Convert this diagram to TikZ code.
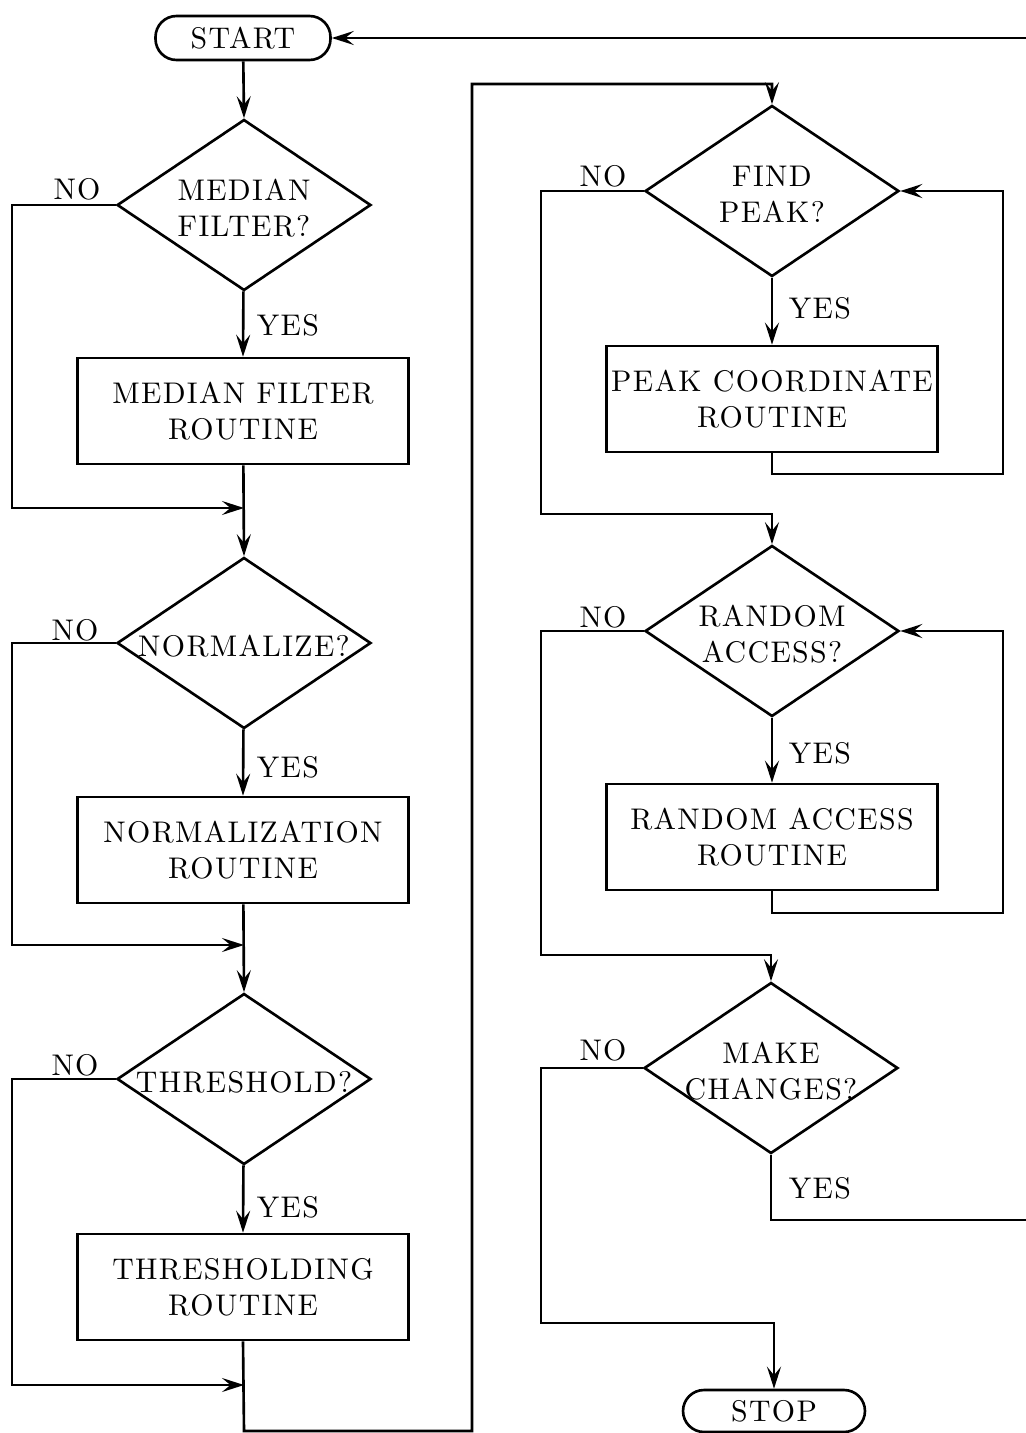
\documentclass[tikz,border=0pt]{standalone}
\usepackage{fontspec}
\newfontfamily\chartfont{lmroman10-regular.otf}[LetterSpace=4.5]
\usepackage{tikz}
\usetikzlibrary{shapes,arrows.meta}

\tikzset{
  term/.style={draw, rectangle, rounded corners=0.42cm, minimum width=3.5cm, minimum height=0.88cm, inner sep=0pt},
  decision/.style={draw, diamond, minimum width=5.08cm, minimum height=3.42cm, inner sep=0pt},
  routine/.style={draw, rectangle, minimum width=6.62cm, minimum height=2.12cm, inner sep=0pt, align=center},
  dtext/.style={align=center, inner sep=0pt, yshift=-0.06cm},
  flow/.style={-{Stealth[length=0.44cm,width=0.28cm,inset=0.17cm]}},
}

\begin{document}
\begin{tikzpicture}[x=0.02cm, y=-0.02cm, line width=1.5pt, font=\chartfont\fontsize{17}{20.5}\selectfont]
\useasboundingbox (0,0) rectangle (1026,1433);

\node[term] (start) at (243,38) {START};
\node[decision, label={[dtext]center:MEDIAN\\FILTER?}] (d1) at (244,205) {};
\node[routine] (b1) at (243,411) {MEDIAN FILTER\\ROUTINE};
\node[decision, label={[dtext]center:NORMALIZE?}] (d2) at (244,643) {};
\node[routine] (b2) at (243,850) {NORMALIZATION\\ROUTINE};
\node[decision, label={[dtext]center:THRESHOLD?}] (d3) at (244,1079) {};
\node[routine] (b3) at (243,1287) {THRESHOLDING\\ROUTINE};

\node[decision, label={[dtext]center:FIND\\PEAK?}] (d4) at (772,191) {};
\node[routine] (b4) at (772,399) {PEAK COORDINATE\\ROUTINE};
\node[decision, label={[dtext]center:RANDOM\\ACCESS?}] (d5) at (772,631) {};
\node[routine] (b5) at (772,837) {RANDOM ACCESS\\ROUTINE};
\node[decision, label={[dtext]center:MAKE\\CHANGES?}] (d6) at (771,1068) {};
\node[term, minimum width=3.64cm, minimum height=0.84cm] (stop) at (774,1411) {STOP};

\foreach \n/\x/\y in {1/77/189, 2/75/630, 3/75/1065, 4/603/176, 5/603/617, 6/603/1050}
  \node (no\n) at (\x,\y) {NO};
\foreach \n/\x/\y in {1/288/325, 2/288/767, 3/288/1207, 4/820/308, 5/820/753, 6/820/1188}
  \node (yes\n) at (\x,\y) {YES};

\coordinate (j1) at (244,508);
\coordinate (j2) at (244,945);
\coordinate (j3) at (244,1385);

\draw[flow] (start) -- (d1.north);
\draw[flow] (d1) -- (b1.north);
\draw[flow] (b1) -- (d2.north);
\draw[flow] (d1.west) -| (12,508) -- (j1);
\draw[flow] (d2) -- (b2.north);
\draw[flow] (b2) -- (d3.north);
\draw[flow] (d2.west) -| (12,945) -- (j2);
\draw[flow] (d3) -- (b3.north);
\draw[flow] (d3.west) -| (12,1385) -- (j3);
\draw[flow] (b3.south) -- (244,1431) -| (472,84) -| (d4.north);

\draw[flow] (d4) -- (b4.north);
\draw[flow] (b4.south) |- (1003,474) |- (d4.east);
\draw[flow] (d4.west) -| (541,514) -| (d5.north);
\draw[flow] (d5) -- (b5.north);
\draw[flow] (b5.south) |- (1003,913) |- (d5.east);
\draw[flow] (d5.west) -| (541,955) -| (d6.north);
\draw[flow] (d6.west) -| (541,1323) -| (stop.north);
\draw[flow] (d6.south) |- (1030,1220) |- (start.east);
\end{tikzpicture}
\end{document}
